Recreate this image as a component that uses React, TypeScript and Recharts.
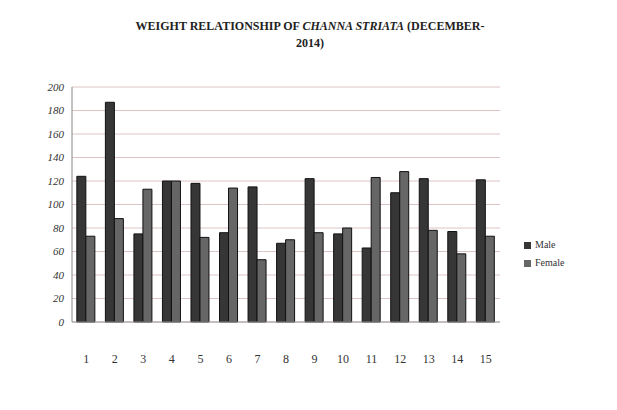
import { Bar, BarChart, CartesianGrid, XAxis, YAxis } from "recharts";

const FISH = ["1", "2", "3", "4", "5", "6", "7", "8", "9", "10", "11", "12", "13", "14", "15"];
const MALE = [124, 187, 75, 120, 118, 76, 115, 67, 122, 75, 63, 110, 122, 77, 121];
const FEMALE = [73, 88, 113, 120, 72, 114, 53, 70, 76, 80, 123, 128, 78, 58, 73];
const Y_TICKS = [0, 20, 40, 60, 80, 100, 120, 140, 160, 180, 200];

const MALE_COLOR = "#363636";
const FEMALE_COLOR = "#666666";
const FONT = "'Liberation Serif', 'DejaVu Serif', serif";

const data = FISH.map((fish, i) => ({ fish, male: MALE[i], female: FEMALE[i] }));

const LEGEND = [
  { name: "Male", color: MALE_COLOR },
  { name: "Female", color: FEMALE_COLOR },
];

export default function App() {
  return (
    <div style={{ position: "fixed", left: 0, top: 0, width: 617, height: 410, background: "#fff", fontFamily: FONT }}>
      <div
        style={{
          position: "absolute",
          left: 110,
          top: 18,
          width: 400,
          textAlign: "center",
          fontWeight: "bold",
          fontSize: 12,
          lineHeight: "17px",
          color: "#222",
        }}
      >
        WEIGHT RELATIONSHIP OF <i>CHANNA STRIATA</i> (DECEMBER-
        <br />
        2014)
      </div>
      <BarChart
        width={617}
        height={410}
        data={data}
        margin={{ top: 87, right: 117, left: 20, bottom: 48 }}
        barCategoryGap="17%"
        barGap={0}
      >
        <CartesianGrid vertical={false} stroke="#dcc4c4" />
        <XAxis
          dataKey="fish"
          height={40}
          tickLine={false}
          axisLine={{ stroke: "#999" }}
          tickMargin={26}
          tick={{ fontSize: 12, fill: "#333", fontFamily: FONT }}
        />
        <YAxis
          domain={[0, 200]}
          ticks={Y_TICKS}
          width={52}
          tickLine={false}
          axisLine={{ stroke: "#888" }}
          tick={{ fontSize: 11, fill: "#333", fontStyle: "italic", fontFamily: FONT }}
        />
        <Bar dataKey="male" name="Male" fill={MALE_COLOR} stroke="#111" strokeWidth={1} isAnimationActive={false} />
        <Bar dataKey="female" name="Female" fill={FEMALE_COLOR} stroke="#111" strokeWidth={1} isAnimationActive={false} />
      </BarChart>
      <div style={{ position: "absolute", left: 524, top: 236, fontSize: 10, color: "#333", lineHeight: "18px" }}>
        {LEGEND.map((item) => (
          <div key={item.name} style={{ display: "flex", alignItems: "center" }}>
            <span style={{ width: 7, height: 7, background: item.color, marginRight: 4, display: "inline-block" }} />
            {item.name}
          </div>
        ))}
      </div>
    </div>
  );
}
